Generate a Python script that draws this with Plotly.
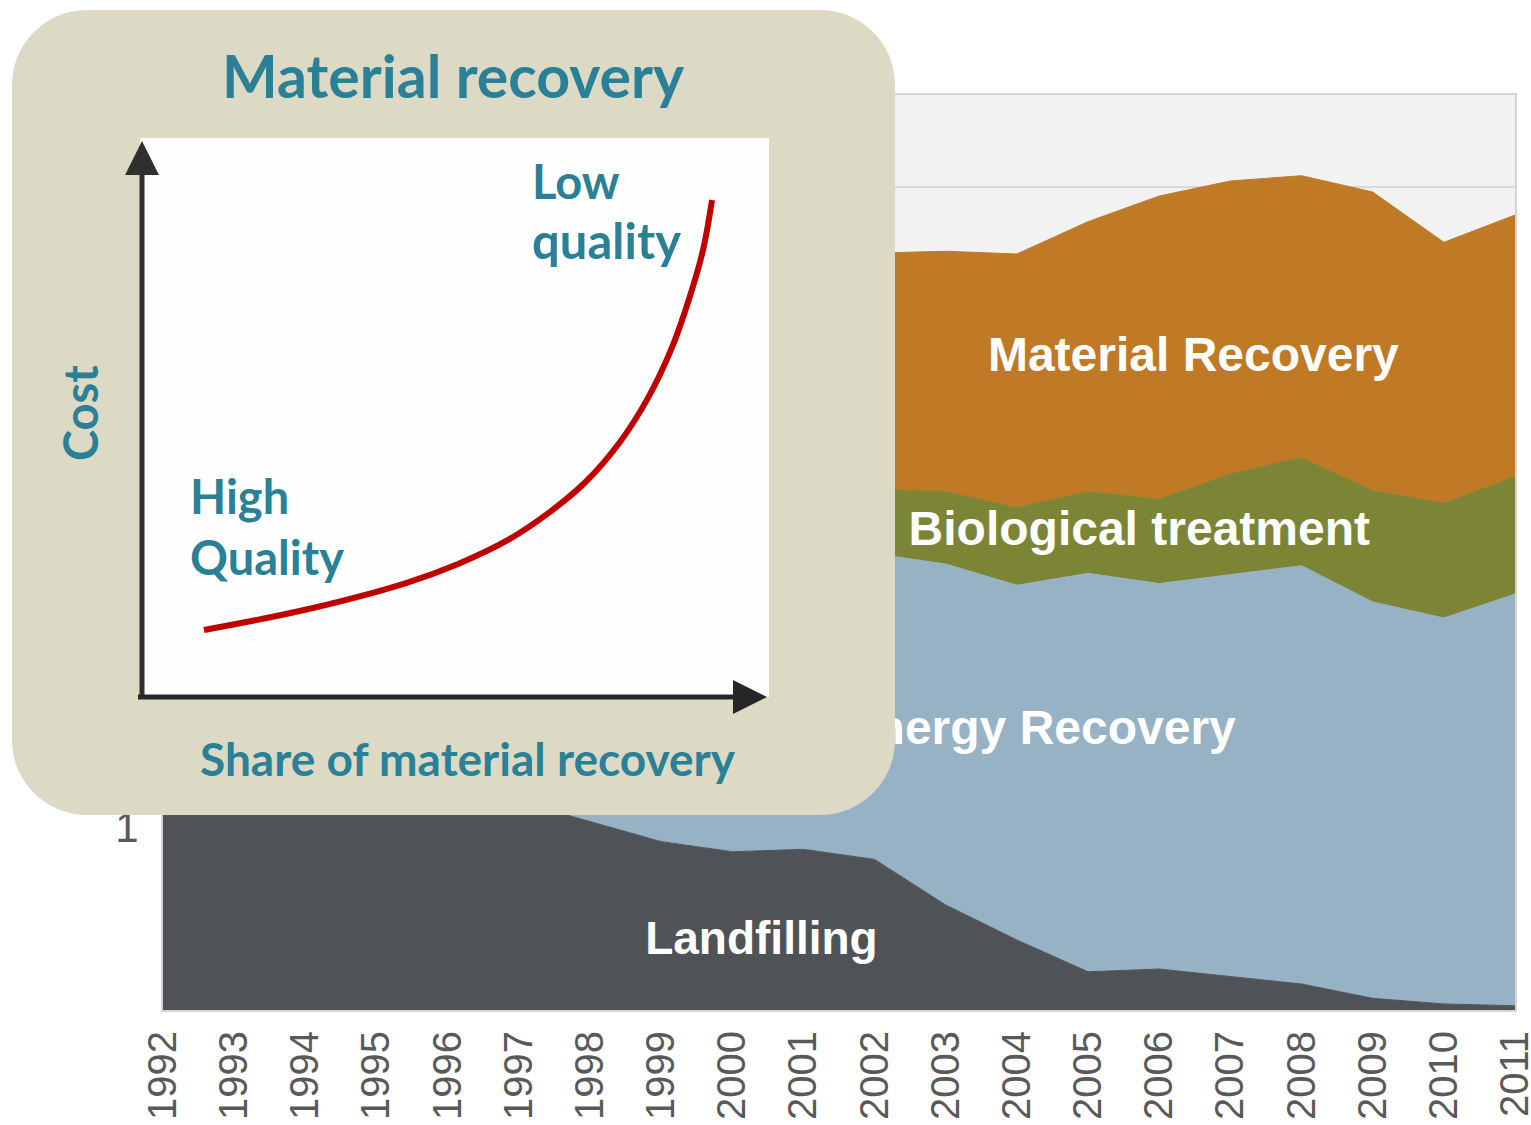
import plotly.graph_objects as go

W, H = 1531, 1125

# ---------------- data (million tonnes) ----------------
years = list(range(1992, 2012))
year_labels = [str(y) for y in years]

landfilling = [1.40, 1.38, 1.35, 1.30, 1.22, 1.14, 1.03, 0.92, 0.865, 0.878,
               0.823, 0.574, 0.383, 0.209, 0.224, 0.182, 0.142, 0.064, 0.033, 0.023]
energy_recovery = [0.95, 1.00, 1.05, 1.10, 1.15, 1.22, 1.30, 1.40, 1.47, 1.55,
                   1.670, 1.863, 1.938, 2.177, 2.106, 2.195, 2.286, 2.166, 2.109, 2.250]
biological_treatment = [0.15, 0.16, 0.18, 0.20, 0.22, 0.24, 0.26, 0.29, 0.31, 0.33,
                        0.352, 0.395, 0.424, 0.446, 0.461, 0.552, 0.590, 0.608, 0.627, 0.641]
material_recovery = [0.55, 0.60, 0.70, 0.80, 0.90, 1.00, 1.08, 1.15, 1.22, 1.26,
                     1.291, 1.314, 1.386, 1.476, 1.657, 1.601, 1.541, 1.632, 1.426, 1.430]

series_names = ["Landfilling", "Energy Recovery", "Biological treatment", "Material Recovery"]
series_values = [landfilling, energy_recovery, biological_treatment, material_recovery]
series_colors = ["#4f5357", "#97b2c5", "#7c8535", "#c07a26"]

y_tickvals = [0, 0.5, 1, 1.5, 2, 2.5, 3, 3.5, 4, 4.5, 5]
y_ticktext = ["", "", "1", "", "2", "", "3", "", "4", "", "5"]

# in-area labels (year, value)
label_text = ["Material Recovery", "Biological treatment", "Energy Recovery", "Landfilling"]
label_x = [2006.48, 2005.72, 2004.32, 2000.41]
label_y = [3.555, 2.604, 1.519, 0.368]
label_size = [48, 48, 48, 46]

# inset concept curve (share of material recovery vs cost, 0..1)
curve_share = [0.1017, 0.2607, 0.4229, 0.5056, 0.5851, 0.6486, 0.7075,
               0.7625, 0.8079, 0.8445, 0.8728, 0.8951, 0.9094]
curve_cost = [0.1199, 0.1556, 0.2039, 0.2379, 0.2809, 0.3284, 0.3837,
              0.4553, 0.5356, 0.6217, 0.7116, 0.7996, 0.8891]

# ---------------- layout geometry (pixels) ----------------
PX_L, PX_R, PX_T, PX_B = 163, 1515, 95, 1010
BOX = (12, 10, 895, 815)          # inset box x0,y0,x1,y1
BOX_R = 75
WHITE = (140, 138, 769, 697)

TEAL = "#2a8096"
BEIGE = "#dcd9c4"
INK = "#303030"

def fx(px):
    return px / W

def fy(py):
    return (H - py) / H

fig = go.Figure()

for name, vals, col in zip(series_names, series_values, series_colors):
    fig.add_trace(go.Scatter(
        x=years, y=vals, name=name, mode="lines", stackgroup="one",
        line=dict(width=1, color=col), fillcolor=col,
        xaxis="x", yaxis="y", hoverinfo="x+y+name"))

fig.add_trace(go.Scatter(
    x=label_x, y=label_y, text=label_text, mode="text",
    textfont=dict(family="Liberation Sans, Arial, sans-serif", size=label_size,
                  color="white", weight="bold"),
    textposition="middle center", hoverinfo="skip", xaxis="x", yaxis="y"))

# overlay subplot in pixel coordinates (holds the inset panel shapes)
fig.add_trace(go.Scatter(x=[None], y=[None], mode="lines", hoverinfo="skip",
                         xaxis="x2", yaxis="y2"))

# inset curve subplot
fig.add_trace(go.Scatter(
    x=curve_share, y=curve_cost, mode="lines",
    line=dict(color="#c00000", width=6, shape="spline", smoothing=1),
    hoverinfo="skip", xaxis="x3", yaxis="y3"))

# ---------------- shapes ----------------
shapes = []
shapes.append(dict(type="rect", xref="x", yref="y", x0=years[0], x1=years[-1], y0=0, y1=5,
                   fillcolor="#f2f2f2", line=dict(width=0), layer="below"))

x0, y0, x1, y1 = BOX
r = BOX_R
k = 0.5523 * r
box_path = (
    f"M {x0 + r},{y0} L {x1 - r},{y0} "
    f"C {x1 - r + k},{y0} {x1},{y0 + r - k} {x1},{y0 + r} "
    f"L {x1},{y1 - r} "
    f"C {x1},{y1 - r + k} {x1 - r + k},{y1} {x1 - r},{y1} "
    f"L {x0 + r},{y1} "
    f"C {x0 + r - k},{y1} {x0},{y1 - r + k} {x0},{y1 - r} "
    f"L {x0},{y0 + r} "
    f"C {x0},{y0 + r - k} {x0 + r - k},{y0} {x0 + r},{y0} Z"
)
shapes.append(dict(type="path", xref="x2", yref="y2", path=box_path,
                   fillcolor=BEIGE, line=dict(width=0), layer="below"))
shapes.append(dict(type="rect", xref="x2", yref="y2", x0=WHITE[0], y0=WHITE[1], x1=WHITE[2], y1=WHITE[3],
                   fillcolor="#fefefe", line=dict(width=0), layer="below"))
shapes.append(dict(type="line", xref="x2", yref="y2", x0=142, y0=699, x1=142, y1=168,
                   line=dict(color=INK, width=5), layer="below"))
shapes.append(dict(type="path", xref="x2", yref="y2", path="M 125,175 L 159,175 L 142,141 Z",
                   fillcolor=INK, line=dict(width=0), layer="below"))
shapes.append(dict(type="line", xref="x2", yref="y2", x0=138, y0=697, x1=740, y1=697,
                   line=dict(color="#262626", width=5), layer="below"))
shapes.append(dict(type="path", xref="x2", yref="y2", path="M 733,680 L 767,697 L 733,714 Z",
                   fillcolor="#262626", line=dict(width=0), layer="below"))

# ---------------- inset annotations ----------------
afont = "Lato, Open Sans, sans-serif"
def ann(text, x, y, size, xanchor="center", angle=0):
    return dict(text=f"<b>{text}</b>", x=x, y=y, xref="x2", yref="y2", showarrow=False,
                xanchor=xanchor, yanchor="middle", textangle=angle,
                font=dict(family=afont, size=size, color=TEAL))

annotations = [
    ann("Material recovery", 453, 75, 59),
    ann("Low", 530, 181, 47, "left"),
    ann("quality", 530, 240, 49, "left"),
    ann("High", 188, 496, 47, "left"),
    ann("Quality", 188, 557, 47, "left"),
    ann("Cost", 80, 413, 47, angle=-90),
    ann("Share of material recovery", 468, 758, 46),
]

fig.update_layout(
    width=W, height=H,
    margin=dict(l=0, r=0, t=0, b=0, pad=0, autoexpand=False),
    paper_bgcolor="white",
    plot_bgcolor="rgba(0,0,0,0)",
    showlegend=False,
    shapes=shapes,
    annotations=annotations,
    xaxis=dict(domain=[fx(PX_L), fx(PX_R)], range=[years[0], years[-1]], anchor="y",
               tickvals=years, ticktext=year_labels, tickangle=-90,
               tickfont=dict(family="Liberation Sans, Arial, sans-serif", size=40, color="#595959"),
               showgrid=False, zeroline=False, showline=True, mirror=True,
               linecolor="#d4d4d4", linewidth=2, ticks="", ticklabelstandoff=3,
               ticklabeloverflow="allow", automargin=False),
    yaxis=dict(domain=[fy(PX_B), fy(PX_T)], range=[0, 5], anchor="x",
               tickvals=y_tickvals, ticktext=y_ticktext,
               tickfont=dict(family="Liberation Sans, Arial, sans-serif", size=42, color="#595959"),
               showgrid=True, gridcolor="#d9d9d9", gridwidth=2, zeroline=False,
               showline=True, mirror=True, linecolor="#d4d4d4", linewidth=2, ticks="",
               ticklabelstandoff=14, automargin=False),
    xaxis2=dict(domain=[0, 1], range=[0, W], anchor="y2", visible=False, fixedrange=True),
    yaxis2=dict(domain=[0, 1], range=[H, 0], anchor="x2", visible=False, fixedrange=True),
    xaxis3=dict(domain=[fx(WHITE[0]), fx(WHITE[2])], range=[0, 1], anchor="y3", visible=False),
    yaxis3=dict(domain=[fy(WHITE[3]), fy(WHITE[1])], range=[0, 1], anchor="x3", visible=False),
)

fig.write_html("out.html", config={"displayModeBar": False},
               post_script="document.body.style.margin='0';")
